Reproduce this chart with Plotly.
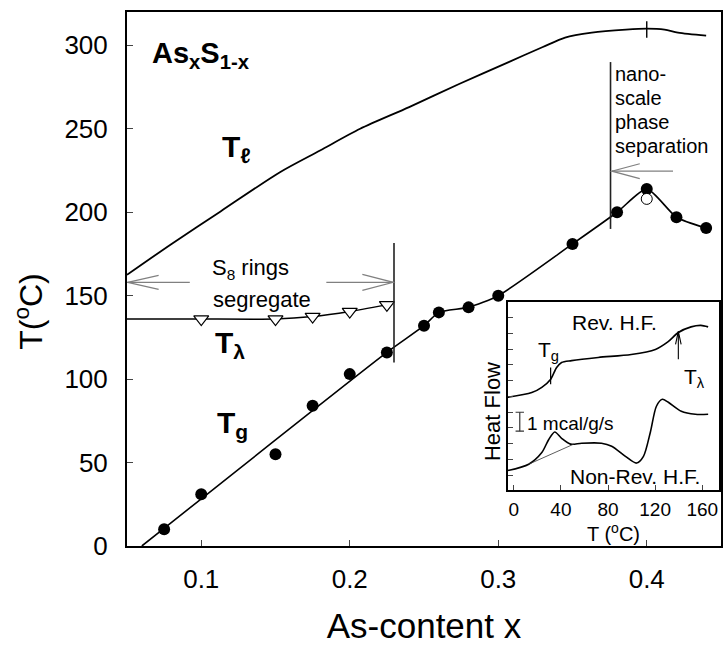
import plotly.graph_objects as go

# ---------------- data (main panel) ----------------
tg_x = [0.075, 0.10, 0.15, 0.175, 0.20, 0.225, 0.25, 0.26, 0.28, 0.30, 0.35, 0.38, 0.40, 0.42, 0.44]
tg_y = [10, 31, 55, 84, 103, 116, 132, 140, 143, 150, 181, 200, 214, 197, 190.5]
tg_line_x = [0.06, 0.225, 0.25, 0.26, 0.28, 0.30, 0.35, 0.38, 0.40, 0.42, 0.44]
tg_line_y = [0, 116, 132, 140, 143, 150, 181, 200, 214, 197, 190.5]
tg_open_x = [0.40]
tg_open_y = [208]
tlam_x = [0.10, 0.15, 0.175, 0.20, 0.225]
tlam_y = [136, 136, 137.5, 140.5, 144.5]
tlam_line_x = [0.05, 0.10, 0.15, 0.175, 0.20, 0.225]
tlam_line_y = [136, 136, 136, 137.5, 140.5, 144.5]
liq_x = [0.05, 0.08, 0.113, 0.153, 0.18, 0.207, 0.24, 0.274, 0.307, 0.33, 0.345, 0.363, 0.386, 0.40, 0.412, 0.421, 0.44]
liq_y = [162.5, 181, 200.5, 224, 237, 250, 263, 277, 290, 299, 304.7, 307.6, 309.4, 310, 309.4, 307.6, 305.8]
x_ticks = [0.1, 0.2, 0.3, 0.4]
x_ticktext = ["0.1", "0.2", "0.3", "0.4"]
y_ticks = [0, 50, 100, 150, 200, 250, 300]

# ---------------- data (inset) ----------------
rev_T = [-5.1, 15.3, 23.8, 31.2, 36.4, 40.6, 49.1, 71.7, 99.7, 120.2, 130.8, 139.7, 150.5, 158.8, 165.0]
rev_v = [49.5, 52, 54.8, 59, 65.4, 68, 69, 70.7, 72.3, 75, 79, 84, 87, 87.8, 87]
nonrev_T = [-5.1, 12.7, 23.8, 29.7, 34.8, 40.6, 48.2, 57.6, 74.5, 83.1, 94.8, 104.2, 110.1, 116.0, 121.1, 126.1, 131.2, 142.2, 154.1, 165.0]
nonrev_v = [10.4, 13.8, 20, 27, 31, 27.6, 24.5, 25, 25, 23.4, 18, 14.4, 18, 31, 44.7, 48.4, 46.8, 42, 40.4, 40.4]
base_T = [12.7, 50.9]
base_v = [13.8, 24.5]
inset_xticks = [0, 40, 80, 120, 160]

FONT = "Liberation Sans, Arial, sans-serif"
XR = [0.05, 0.45]
YR = [0, 320]
W, H = 723, 645
ML, MR, MT, MB = 127, 0, 12, 98
PW, PH = W - ML - MR, H - MT - MB
SX = PW / (XR[1] - XR[0])
SY = PH / (YR[1] - YR[0])

# inset geometry
IX_DOM = [0.641, 0.997]
IY_DOM = [0.1047, 0.456]
IXR = [-5.1, 174.4]
IYR = [0, 100]
ISX = (IX_DOM[1] - IX_DOM[0]) * PW / (IXR[1] - IXR[0])
ISY = (IY_DOM[1] - IY_DOM[0]) * PH / (IYR[1] - IYR[0])

fig = go.Figure()

fig.add_trace(go.Scatter(x=liq_x, y=liq_y, mode="lines", line=dict(color="black", width=1.8, shape="spline", smoothing=0.8), showlegend=False))
fig.add_trace(go.Scatter(x=tlam_line_x, y=tlam_line_y, mode="lines", line=dict(color="black", width=1.5, shape="spline", smoothing=0.5), showlegend=False))
fig.add_trace(go.Scatter(x=tlam_x, y=tlam_y, mode="markers", marker=dict(symbol="triangle-down", size=13, color="white", line=dict(color="black", width=1.2)), showlegend=False))
fig.add_trace(go.Scatter(x=tg_line_x, y=tg_line_y, mode="lines", line=dict(color="black", width=1.6, shape="spline", smoothing=0.6), showlegend=False))
fig.add_trace(go.Scatter(x=tg_x, y=tg_y, mode="markers", marker=dict(symbol="circle", size=12, color="black"), showlegend=False))
fig.add_trace(go.Scatter(x=tg_open_x, y=tg_open_y, mode="markers", marker=dict(symbol="circle", size=11, color="white", line=dict(color="black", width=1)), showlegend=False))

# inset traces
fig.add_trace(go.Scatter(x=rev_T, y=rev_v, xaxis="x2", yaxis="y2", mode="lines", line=dict(color="black", width=1.6, shape="spline", smoothing=0.8), showlegend=False))
fig.add_trace(go.Scatter(x=nonrev_T, y=nonrev_v, xaxis="x2", yaxis="y2", mode="lines", line=dict(color="black", width=1.6, shape="spline", smoothing=0.8), showlegend=False))
fig.add_trace(go.Scatter(x=base_T, y=base_v, xaxis="x2", yaxis="y2", mode="lines", line=dict(color="#333", width=0.8), showlegend=False))
# scale bar (1 mcal/g/s)
fig.add_trace(go.Scatter(x=[5.1, 5.1], y=[31.4, 41.5], xaxis="x2", yaxis="y2", mode="lines+markers",
                         line=dict(color="#333", width=1.2), marker=dict(symbol="line-ew", size=6, line=dict(color="#333", width=1.2)), showlegend=False))

shapes = []

def chevron(tip, d, L, Wd, xref="x", yref="y", sx=SX, sy=SY, color="#808080", width=1.2):
    dx, dy = d
    px, py = -dy, dx
    a1 = (tip[0] + (-L * dx + Wd * px) / sx, tip[1] + (-L * dy + Wd * py) / sy)
    a2 = (tip[0] + (-L * dx - Wd * px) / sx, tip[1] + (-L * dy - Wd * py) / sy)
    path = f"M {a1[0]},{a1[1]} L {tip[0]},{tip[1]} L {a2[0]},{a2[1]}"
    shapes.append(dict(type="path", path=path, xref=xref, yref=yref, line=dict(color=color, width=width)))

def seg(x0, y0, x1, y1, xref="x", yref="y", color="#808080", width=1.2):
    shapes.append(dict(type="line", x0=x0, y0=y0, x1=x1, y1=y1, xref=xref, yref=yref, line=dict(color=color, width=width)))

# vertical boundary lines
seg(0.2298, 110, 0.2298, 181.5, color="#222", width=1.6)
seg(0.3756, 190, 0.3756, 290, color="#222", width=1.6)
# liquidus peak tick
seg(0.40, 304.5, 0.40, 314.5, color="black", width=1.4)
# S8 double arrow
y_s8 = 158
seg(0.05, y_s8, 0.05 + 63 / SX, y_s8)
seg(0.05 + 200 / SX, y_s8, 0.2298, y_s8)
chevron((0.0505, y_s8), (-1, 0), 31, 7)
chevron((0.2293, y_s8), (1, 0), 31, 8)
# nano-scale arrow
y_n = 224.6
seg(0.3765, y_n, 0.4177, y_n)
chevron((0.3765, y_n), (-1, 0), 28, 7.5)

# inset: Tg tick and T_lambda arrow
seg(31.3, 56.4, 31.3, 65.4, xref="x2", yref="y2", color="black", width=1.2)
seg(139.7, 69.7, 139.7, 84.6, xref="x2", yref="y2", color="black", width=1.1)
chevron((139.7, 84.6), (0, 1), 13, 2.8, xref="x2", yref="y2", sx=ISX, sy=ISY, color="black", width=1.1)

ann = []
def text(x, y, s, size, xref="x", yref="y", xanchor="center", yanchor="middle", angle=0):
    ann.append(dict(x=x, y=y, xref=xref, yref=yref, text=s, showarrow=False, xanchor=xanchor, yanchor=yanchor,
                    textangle=angle, font=dict(family=FONT, size=size, color="black")))

text(0.0655, 294, "<b>As<sub>x</sub>S<sub>1-x</sub></b>", 29, xanchor="left")
text(0.1125, 238.4, "<b>T<sub>ℓ</sub></b>", 30, xanchor="left")
text(0.1080, 120.8, "<b>T<sub>λ</sub></b>", 30, xanchor="left")
text(0.1095, 72.8, "<b>T<sub>g</sub></b>", 30, xanchor="left")
text(0.1330, 166, "S<sub>8</sub> rings", 22)
text(0.1406, 148, "segregate", 22)
for yy, s in zip([282.9, 268.5, 254.2, 239.8], ["nano-", "scale", "phase", "separation"]):
    text(0.3772, yy, s, 20, xanchor="left")

# y-axis title (rotated text left of the tick labels)
text((29 - ML) / PW, (H - MB - 312) / PH, "T(<sup>o</sup>C)", 32, xref="paper", yref="paper", angle=-90)

# inset texts
text(85.5, 89.4, "Rev. H.F.", 21, xref="x2", yref="y2")
text(102.5, 7.5, "Non-Rev. H.F.", 21, xref="x2", yref="y2")
text(9.6, 35.5, "1 mcal/g/s", 19, xref="x2", yref="y2", xanchor="left")
text(29.7, 74, "T<sub>g</sub>", 21, xref="x2", yref="y2")
text(153.3, 59.5, "T<sub>λ</sub>", 21, xref="x2", yref="y2")
text((493 - ML) / PW, (H - MB - 412) / PH, "Heat Flow", 22, xref="paper", yref="paper", angle=-90)
text((615 - ML) / PW, (H - MB - 533) / PH, "T (<sup>o</sup>C)", 20, xref="paper", yref="paper")

fig.update_layout(
    width=W, height=H,
    margin=dict(l=ML, r=MR, t=MT, b=MB),
    paper_bgcolor="white", plot_bgcolor="white",
    font=dict(family=FONT, color="black"),
    shapes=shapes, annotations=ann,
    xaxis=dict(range=XR, tickvals=x_ticks, ticktext=x_ticktext, ticks="inside", ticklen=6, tickwidth=1.2,
               showline=True, linewidth=2, linecolor="black", mirror=True, showgrid=False, zeroline=False,
               tickfont=dict(size=26), ticklabelstandoff=9,
               title=dict(text="As-content x", font=dict(size=35), standoff=26)),
    yaxis=dict(range=YR, tickvals=y_ticks, ticks="inside", ticklen=6, tickwidth=1.2,
               showline=True, linewidth=2, linecolor="black", mirror=True, showgrid=False, zeroline=False,
               tickfont=dict(size=26), ticklabelstandoff=12),
    xaxis2=dict(domain=IX_DOM, anchor="y2", range=IXR, tickvals=inset_xticks, ticks="inside", ticklen=5,
                showline=True, linewidth=1.5, linecolor="black", mirror=True, showgrid=False, zeroline=False,
                tickfont=dict(size=19), ticklabelstandoff=1),
    yaxis2=dict(domain=IY_DOM, anchor="x2", range=IYR, tick0=8, dtick=8.4, ticks="inside", ticklen=5,
                showticklabels=False, showline=True, linewidth=1.5, linecolor="black", mirror=True,
                showgrid=False, zeroline=False),
)

fig.write_html("out.html", config={"displayModeBar": False},
               post_script="document.body.style.margin='0px';document.body.style.padding='0px';document.documentElement.style.overflow='hidden';")
